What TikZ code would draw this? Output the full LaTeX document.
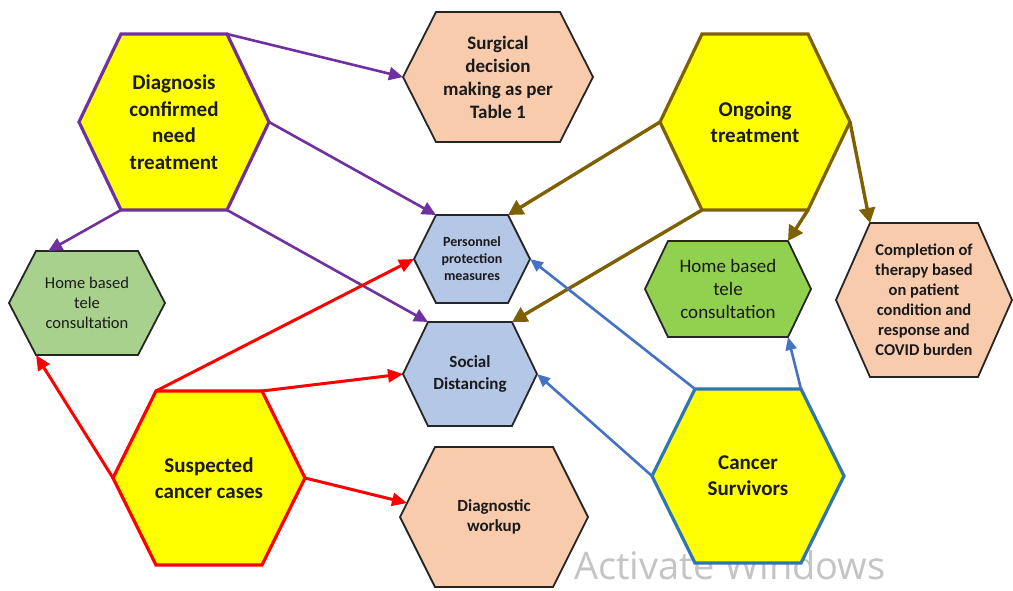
\documentclass[tikz,border=0pt]{standalone}
\usepackage{fontspec}
\setmainfont{Carlito}
\newfontfamily\wmfont{Open Sans}
\usetikzlibrary{arrows.meta,calc}
\definecolor{hyellow}{HTML}{FFFF00}
\definecolor{cpurple}{HTML}{7030A0}
\definecolor{colive}{HTML}{7F6000}
\definecolor{cred}{HTML}{FF0000}
\definecolor{cblue}{HTML}{4472C4}
\definecolor{cbord}{HTML}{2E75B6}
\definecolor{peach}{HTML}{F8CBAD}
\definecolor{lblue}{HTML}{B4C7E7}
\definecolor{lgreen}{HTML}{A9D18E}
\definecolor{bgreen}{HTML}{92D050}
\definecolor{edgegray}{HTML}{262626}
\definecolor{txt}{HTML}{1A1A1A}
\definecolor{wm}{HTML}{C4C4C4}
% name, cx, cy, half-width, half-height, top half-width, shape style, text style, text
\newcommand{\hexnode}[9]{%
  \coordinate (#1-l) at ({#2-#4},#3);
  \coordinate (#1-r) at ({#2+#4},#3);
  \coordinate (#1-tl) at ({#2-#6},{#3-#5});
  \coordinate (#1-tr) at ({#2+#6},{#3-#5});
  \coordinate (#1-bl) at ({#2-#6},{#3+#5});
  \coordinate (#1-br) at ({#2+#6},{#3+#5});
  \draw[#7] (#1-l) -- (#1-tl) -- (#1-tr) -- (#1-r) -- (#1-br) -- (#1-bl) -- cycle;
  \node[txtnode,#8] (#1) at (#2,#3) {#9};
}
\tikzset{
  txtnode/.style={align=center, text=txt, inner sep=0pt},
  bigtxt/.style={font=\fontsize{21}{26}\selectfont\bfseries},
  yhex/.style={fill=hyellow, line width=3.2pt, line join=miter},
  ohex/.style={draw=edgegray, line width=1.8pt, line join=miter},
  parr/.style={draw=cpurple, line width=2.6pt, -{Triangle[length=14pt,width=13pt]}},
  oarr/.style={draw=colive, line width=3.4pt, -{Triangle[length=15pt,width=16pt]}},
  rarr/.style={draw=cred, line width=3pt, -{Triangle[length=15pt,width=13pt]}},
  barr/.style={draw=cblue, line width=2.6pt, -{Triangle[length=13pt,width=11pt]}},
}
\begin{document}
\begin{tikzpicture}[x=1pt,y=-1pt]
\useasboundingbox[fill=white] (0,0) rectangle (1013,590);

% watermark
\node[text=wm, font=\wmfont\fontsize{38}{40}\selectfont, anchor=base, inner sep=0pt, text depth=0pt] (wmark) at (730,579) {Activate Windows};

% hexagons
\hexnode{D}{174}{122}{95}{88}{53}{yhex,draw=cpurple}{font=\fontsize{21}{26.5}\selectfont\bfseries}{Diagnosis\\confirmed\\need\\treatment}
\hexnode{S}{498}{77}{95}{65}{62}{ohex,fill=peach}{font=\fontsize{19}{23}\selectfont\bfseries}{Surgical\\decision\\making as per\\Table 1}
\hexnode{O}{755}{122}{95}{88}{53}{yhex,draw=colive}{bigtxt}{Ongoing\\treatment}
\hexnode{P}{472}{259}{58}{44}{36}{ohex,fill=lblue}{font=\fontsize{14}{17}\selectfont\bfseries}{Personnel\\protection\\measures}
\hexnode{SD}{470}{374}{67}{52}{42}{ohex,fill=lblue}{font=\fontsize{17}{21.5}\selectfont\bfseries}{Social\\Distancing}
\hexnode{DW}{494}{517}{94}{70}{59}{ohex,fill=peach}{font=\fontsize{17}{20}\selectfont\bfseries}{Diagnostic\\workup}
\hexnode{HL}{87}{303}{78}{52}{51}{ohex,fill=lgreen}{font=\fontsize{16.5}{20}\selectfont}{Home based\\tele\\consultation}
\hexnode{SC}{209}{478}{96}{87}{53}{yhex,draw=cred}{bigtxt}{Suspected\\cancer cases}
\hexnode{HR}{728}{289}{83}{48}{60}{ohex,fill=bgreen}{font=\fontsize{19}{23.3}\selectfont}{Home based\\tele\\consultation}
\hexnode{C}{924}{300}{88}{77}{54}{ohex,fill=peach}{font=\fontsize{16.5}{20}\selectfont\bfseries}{Completion of\\therapy based\\on patient\\condition and\\response and\\COVID burden}
\hexnode{CS}{748}{476}{96}{87}{53}{yhex,draw=cbord}{bigtxt}{Cancer\\Survivors}

% purple arrows (Diagnosis)
\draw[parr] (D-tr) -- (S-l);
\draw[parr] (D-r) -- (P-tl);
\draw[parr] (D-br) -- (SD-tl);
\draw[parr] (D-bl) -- ($(HL-tl)!0.12!(HL-tr)$);

% olive arrows (Ongoing)
\draw[oarr] (O-l) -- (P-tr);
\draw[oarr] (O-bl) -- (SD-tr);
\draw[oarr] (O-br) -- (HR-tr);
\draw[oarr] (O-r) -- (C-tl);

% red arrows (Suspected)
\draw[rarr] (SC-tl) -- (P-l);
\draw[rarr] (SC-tr) -- (SD-l);
\draw[rarr] (SC-r) -- ($(DW-l)!0.2!(DW-tl)$);
\draw[rarr] (SC-l) -- (HL-bl);

% blue arrows (Survivors)
\draw[barr] (CS-tl) -- (P-r);
\draw[barr] (CS-l) -- (SD-r);
\draw[barr] (CS-tr) -- (HR-br);
\end{tikzpicture}
\end{document}
